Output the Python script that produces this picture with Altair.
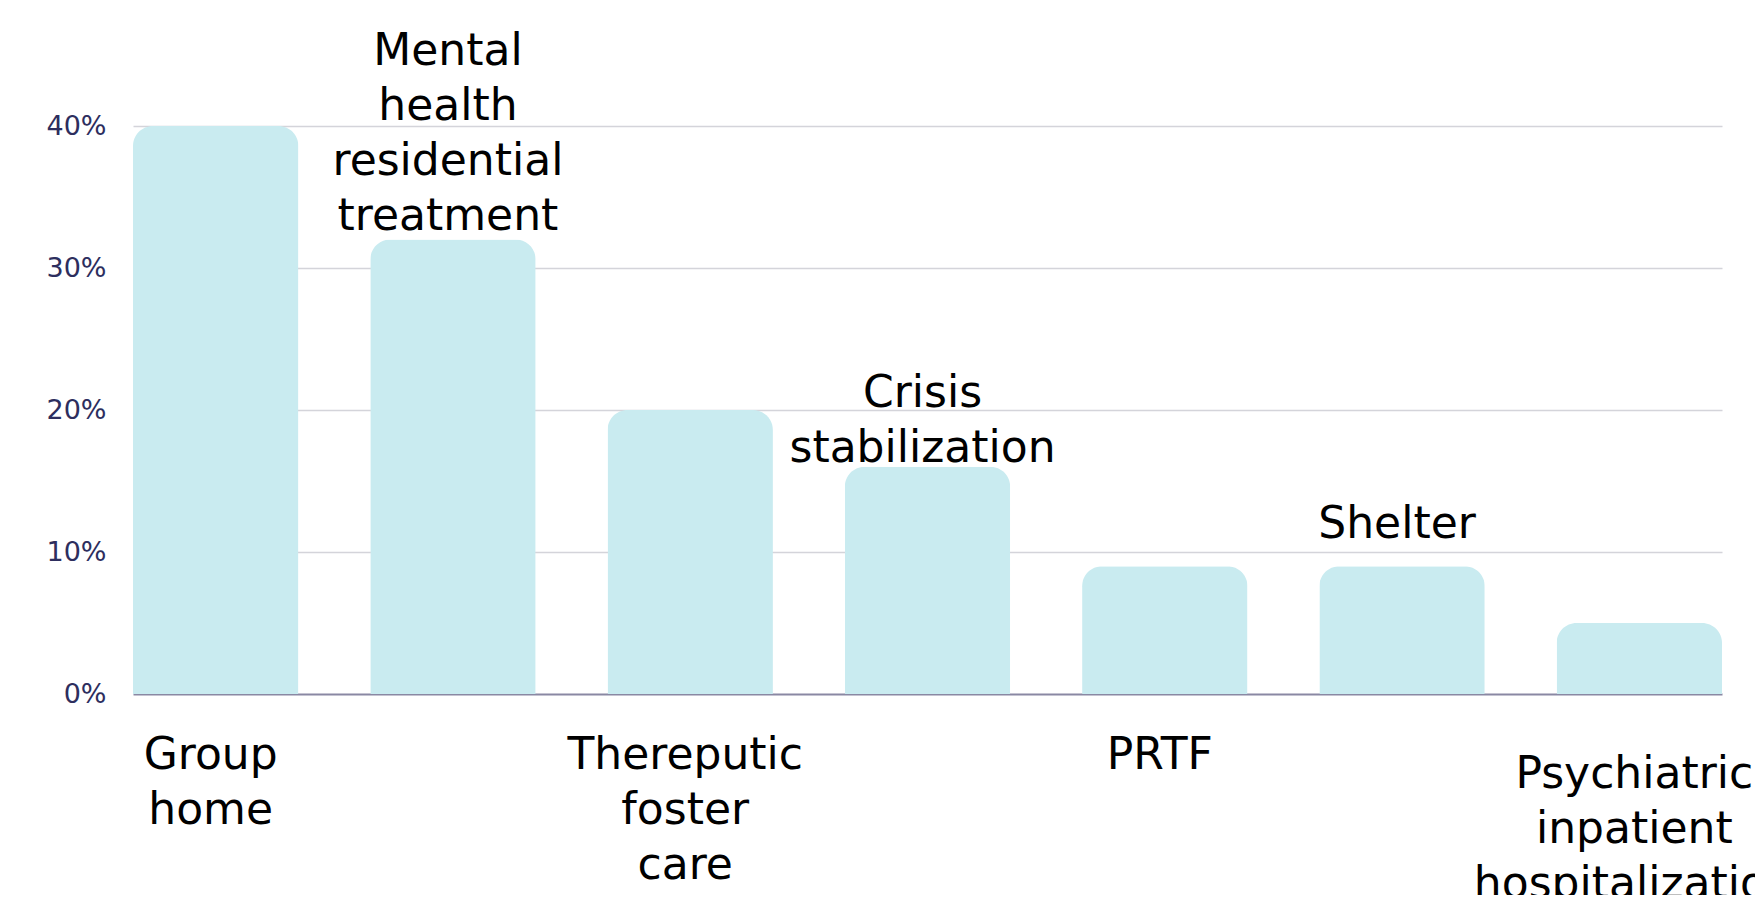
import altair as alt
import pandas as pd

categories = [
    "Group home",
    "Mental health residential treatment",
    "Thereputic foster care",
    "Crisis stabilization",
    "PRTF",
    "Shelter",
    "Psychiatric inpatient hospitalization",
]
values = [0.40, 0.32, 0.20, 0.16, 0.09, 0.09, 0.05]
label_text = [
    "Group\nhome",
    "Mental\nhealth\nresidential\ntreatment",
    "Thereputic\nfoster\ncare",
    "Crisis\nstabilization",
    "PRTF",
    "Shelter",
    "Psychiatric\ninpatient\nhospitalization",
]
label_above = [False, True, False, True, False, True, False]
y_ticks = [0, 0.1, 0.2, 0.3, 0.4]

df = pd.DataFrame({"cat": categories, "value": values, "label": label_text, "above": label_above})

FONT = "DejaVu Sans"
x_enc = alt.X("cat:N", sort=categories,
              scale=alt.Scale(paddingInner=0.303, paddingOuter=0),
              axis=alt.Axis(labels=False, ticks=False, title=None, grid=False,
                            domainColor="#8a88a3", domainWidth=2))
y_scale = alt.Scale(domain=[0, 0.4], nice=False)

base = alt.Chart(df)

bars = base.mark_bar(color="#c9ebf0", cornerRadiusTopLeft=20, cornerRadiusTopRight=20).encode(
    x=x_enc,
    y=alt.Y("value:Q", scale=y_scale,
            axis=alt.Axis(values=y_ticks, format=".0%", title=None, domain=False, ticks=False,
                          gridColor=alt.condition("datum.value === 0",
                                                  alt.value("transparent"),
                                                  alt.value("#d4d4da")),
                          gridWidth=1.5, labelPadding=27,
                          labelFontSize=27, labelColor="#2d2e5e", labelFont=FONT)),
)

# per-label vertical offsets of the first text line (style only)
dys = {
    "Group home": 75,
    "Mental health residential treatment": -175,
    "Thereputic foster care": 75,
    "Crisis stabilization": -60,
    "PRTF": 75,
    "Shelter": -28,
    "Psychiatric inpatient hospitalization": 94,
}

layers = [bars]
for cat, above in zip(categories, label_above):
    t = base.transform_filter(alt.datum.cat == cat).mark_text(
        font=FONT, fontSize=44, color="#000000", lineBreak="\n", lineHeight=55,
        baseline="alphabetic", align="center", dy=dys[cat], dx=-5,
    )
    if above:
        t = t.encode(x=alt.X("cat:N", sort=categories), y=alt.Y("value:Q"), text="label:N")
    else:
        t = t.encode(x=alt.X("cat:N", sort=categories), y=alt.datum(0), text="label:N")
    layers.append(t)

chart = alt.layer(*layers).properties(
    width=1589, height=568,
    autosize=alt.AutoSizeParams(type="none"),
    padding={"left": 125, "top": 118, "right": 33, "bottom": 201},
).configure_view(stroke=None)

chart.save("out.html", embed_options={"renderer": "svg", "actions": False})
